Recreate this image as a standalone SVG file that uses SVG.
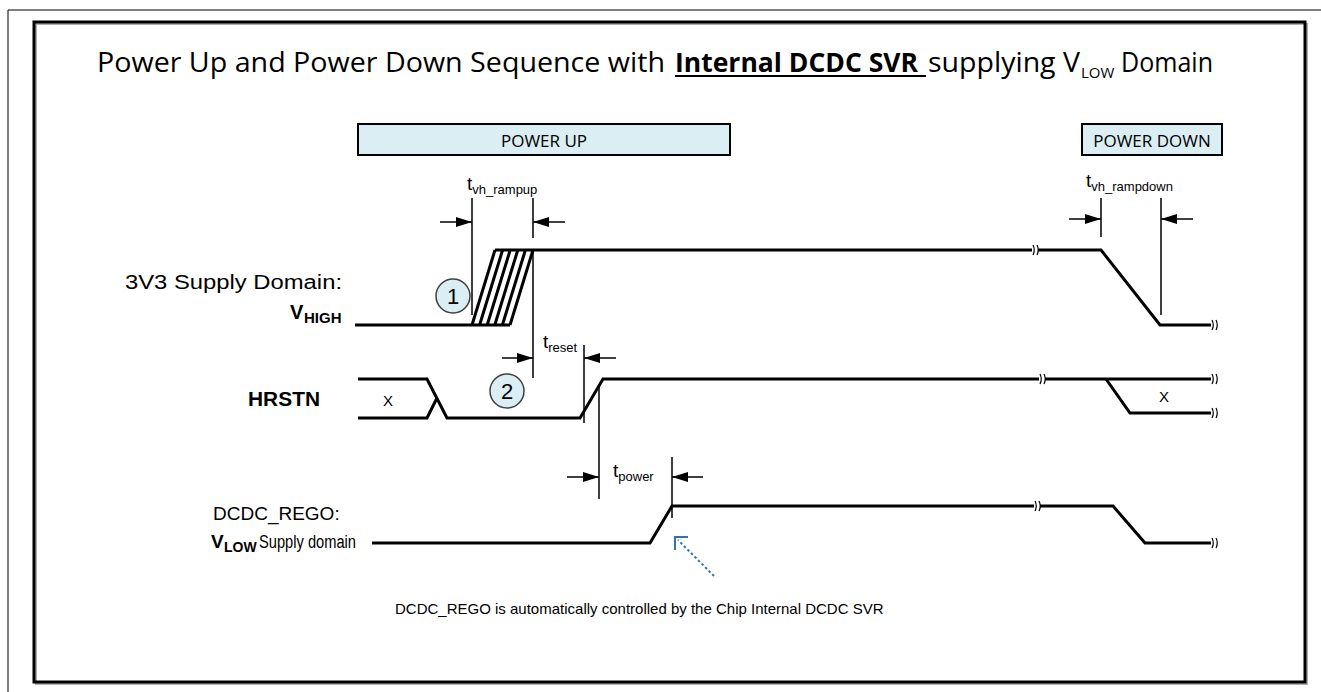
<svg xmlns="http://www.w3.org/2000/svg" xmlns:xlink="http://www.w3.org/1999/xlink" width="1321" height="692" viewBox="0 0 1321 692">
<style>
.wave{fill:none;stroke:#000;stroke-width:3;stroke-linejoin:miter}
.dim{fill:none;stroke:#000;stroke-width:1.5}
.arr{fill:none;stroke:#000;stroke-width:1.5;marker-end:url(#ah)}
.lbl{font-family:"Liberation Sans",Arial,sans-serif;fill:#000}
.cal{font-family:"Open Sans","Noto Sans",sans-serif;fill:#000}
.circ{fill:#DAEEF3;stroke:#404040;stroke-width:1.5}
.box{fill:#DAEEF3;stroke:#000;stroke-width:2}
</style>
<defs>
<marker id="ah" viewBox="0 0 16 10" refX="16" refY="5" markerWidth="16" markerHeight="10" markerUnits="userSpaceOnUse" orient="auto"><path d="M0,0 L16,5 L0,10 z" fill="#000"/></marker>
<g id="brk"><rect x="-1" y="-5" width="6" height="10" fill="#fff"/><path d="M0,-5 q2.5,5 0,10 M4,-5 q2.5,5 0,10" fill="none" stroke="#000" stroke-width="1.2"/></g>
</defs>
<rect width="1321" height="692" fill="#fff"/>
<g id="frame">
<path d="M8,692 V10 H1321" fill="none" stroke="#000" stroke-width="1"/>
<rect x="36" y="24" width="1271" height="660" fill="none" stroke="#b0b0b0" stroke-width="2"/>
<rect x="34" y="22" width="1271" height="660" fill="none" stroke="#000" stroke-width="3"/>
</g>
<g id="title">
<text class="cal" x="97" y="72" font-size="27" textLength="568" lengthAdjust="spacingAndGlyphs">Power Up and Power Down Sequence with</text>
<text class="cal" x="675" y="72" font-size="27" font-weight="bold" textLength="243" lengthAdjust="spacingAndGlyphs">Internal DCDC SVR</text>
<line x1="675" y1="76" x2="926" y2="76" stroke="#000" stroke-width="2"/>
<text class="cal" x="928" y="72" font-size="27" textLength="152" lengthAdjust="spacingAndGlyphs">supplying V</text>
<text class="cal" x="1081" y="78" font-size="15">LOW</text>
<text class="cal" x="1121" y="72" font-size="27" textLength="92" lengthAdjust="spacingAndGlyphs">Domain</text>
</g>
<g id="powerup">
<rect class="box" x="358" y="124" width="372" height="31"/>
<text class="cal" x="544" y="147" font-size="17" text-anchor="middle">POWER UP</text>
</g>
<g id="powerdown">
<rect class="box" x="1082" y="124" width="140" height="31"/>
<text class="cal" x="1152" y="147" font-size="17" text-anchor="middle">POWER DOWN</text>
</g>
<g id="label-vhigh">
<text class="lbl" x="342" y="289" font-size="20" text-anchor="end" textLength="217" lengthAdjust="spacingAndGlyphs">3V3 Supply Domain:</text>
<text class="lbl" x="290" y="319" font-size="20" font-weight="bold">V</text>
<text class="lbl" x="304" y="323" font-size="15" font-weight="bold">HIGH</text>
</g>
<g id="label-hrstn">
<text class="lbl" x="248" y="406" font-size="20" font-weight="bold" textLength="72" lengthAdjust="spacingAndGlyphs">HRSTN</text>
</g>
<g id="label-vlow">
<text class="lbl" x="213" y="520" font-size="19">DCDC_REGO:</text>
<text class="lbl" x="211" y="548" font-size="19" font-weight="bold">V</text>
<text class="lbl" x="224" y="552" font-size="14" font-weight="bold">LOW</text>
<text class="lbl" x="259" y="548" font-size="18" textLength="97" lengthAdjust="spacingAndGlyphs">Supply domain</text>
</g>
<g id="connectors">
<path class="wave" d="M355,325 H510"/>
<path class="wave" d="M472,325 L495,250 M479.6,325 L502.6,250 M487.2,325 L510.2,250 M494.8,325 L517.8,250 M502.4,325 L525.4,250 M510,325 L533,250"/>
<path class="wave" d="M495,250 H1033"/>
<path class="wave" d="M1038,250 H1101 L1160,325 H1212"/>
<use xlink:href="#brk" x="1033" y="250"/>
<use xlink:href="#brk" x="1212" y="325"/>
<path class="wave" d="M358,379 H427 L447,418 H580 L603,379 H1040"/>
<path class="wave" d="M358,418 H427 L437,398"/>
<path class="wave" d="M1045,379 H1212"/>
<path class="wave" d="M1106,379 L1130,413 H1212"/>
<use xlink:href="#brk" x="1040" y="379"/>
<use xlink:href="#brk" x="1212" y="379"/>
<use xlink:href="#brk" x="1212" y="413"/>
<path class="wave" d="M372,543 H650 L672,506 H1035"/>
<path class="wave" d="M1040,506 H1113 L1145,543 H1212"/>
<use xlink:href="#brk" x="1035" y="506"/>
<use xlink:href="#brk" x="1212" y="543"/>
<path class="dim" d="M472,198 V315 M533,198 V238 M533,250 V378 M584,345 V423 M599,386 V499 M672,457 V518 M1101,198 V237 M1161,198 V315"/>
<line class="arr" x1="440" y1="222" x2="472" y2="222"/>
<line class="arr" x1="565" y1="222" x2="533" y2="222"/>
<line class="arr" x1="502" y1="358" x2="533" y2="358"/>
<line class="arr" x1="616" y1="358" x2="584" y2="358"/>
<line class="arr" x1="567" y1="477" x2="599" y2="477"/>
<line class="arr" x1="703" y1="477" x2="672" y2="477"/>
<line class="arr" x1="1069" y1="219" x2="1101" y2="219"/>
<line class="arr" x1="1193" y1="219" x2="1161" y2="219"/>
<line x1="714" y1="576" x2="678" y2="540" stroke="#2E75B6" stroke-width="2" stroke-dasharray="2.5,2.5"/>
<polyline points="688,537 675,537 675,550" fill="none" stroke="#2E75B6" stroke-width="2"/>
</g>
<g id="dim-labels">
<text class="lbl" x="467" y="190" font-size="19">t<tspan font-size="13" dy="4">vh_rampup</tspan></text>
<text class="lbl" x="543" y="348" font-size="19">t<tspan font-size="13" dy="4">reset</tspan></text>
<text class="lbl" x="613" y="477" font-size="19">t<tspan font-size="13" dy="4">power</tspan></text>
<text class="lbl" x="1086" y="187" font-size="19">t<tspan font-size="13" dy="4">vh_rampdown</tspan></text>
</g>
<g id="marker1">
<circle class="circ" cx="453" cy="296" r="17"/>
<text class="lbl" x="453" y="304" font-size="22" text-anchor="middle">1</text>
</g>
<g id="marker2">
<circle class="circ" cx="507" cy="391" r="17"/>
<text class="lbl" x="507" y="399" font-size="22" text-anchor="middle">2</text>
</g>
<g id="x-labels">
<text class="lbl" x="388" y="406" font-size="15" text-anchor="middle">X</text>
<text class="lbl" x="1164" y="402" font-size="15" text-anchor="middle">X</text>
</g>
<g id="note">
<text class="lbl" x="395" y="614" font-size="15">DCDC_REGO is automatically controlled by the Chip Internal DCDC SVR</text>
</g>
</svg>
